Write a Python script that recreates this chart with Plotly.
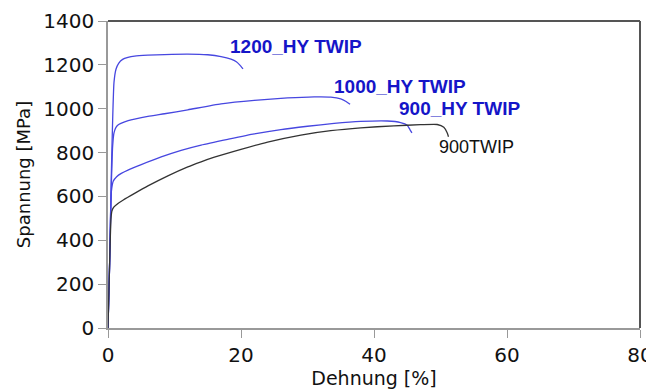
import plotly.graph_objects as go

# 1200_HY TWIP
x_1200 = [0, 0.25, 0.5, 0.7, 0.9, 1.2, 1.6, 2.2, 3, 4, 6, 8.5, 12, 15, 17, 18.5, 19.3, 19.8, 20.3]
y_1200 = [0, 300, 700, 950, 1120, 1180, 1207, 1225, 1234, 1240, 1244, 1247, 1249, 1246, 1238, 1226, 1214, 1200, 1182]

# 1000_HY TWIP
x_1000 = [0, 0.25, 0.5, 0.7, 0.9, 1.2, 1.6, 2.5, 4, 6, 8.5, 12, 17, 22, 27, 31, 33.5, 35, 35.8, 36.4]
y_1000 = [0, 300, 650, 830, 890, 915, 928, 940, 952, 965, 977, 995, 1022, 1038, 1049, 1054, 1053, 1045, 1033, 1020]

# 900_HY TWIP
x_900hy = [0, 0.25, 0.5, 0.8, 1.3, 2, 3, 5, 8, 11, 14, 18, 22, 26, 30, 34, 38, 42, 44, 45, 45.4, 45.7]
y_900hy = [0, 300, 620, 670, 690, 705, 720, 745, 780, 810, 834, 860, 885, 905, 920, 933, 942, 944, 937, 925, 905, 890]

# 900TWIP
x_900 = [0, 0.25, 0.45, 0.6, 0.9, 1.5, 2.3, 4, 6, 9, 12, 14, 16, 20, 24, 29, 33.5, 38, 43, 47, 49.5, 50.5, 51, 51.2]
y_900 = [0, 300, 500, 535, 552, 568, 584, 614, 648, 694, 735, 758, 779, 815, 848, 880, 900, 913, 922, 927, 928, 915, 890, 872]

labels = ["1200_HY TWIP", "1000_HY TWIP", "900_HY TWIP", "900TWIP"]
label_x = [18.0, 33.7, 43.5, 49.5]
label_y = [1286, 1103, 999, 825]

x_ticks = [0, 20, 40, 60, 80]
y_ticks = [0, 200, 400, 600, 800, 1000, 1200, 1400]

BLUE_LINE = "#4747e0"
BLUE_TEXT = "#1515c8"
BLACK_LINE = "#333333"

fig = go.Figure()
series = [(x_1200, y_1200, BLUE_LINE), (x_1000, y_1000, BLUE_LINE),
          (x_900hy, y_900hy, BLUE_LINE), (x_900, y_900, BLACK_LINE)]
for xs, ys, c in series:
    fig.add_trace(go.Scatter(x=xs, y=ys, mode="lines", line=dict(color=c, width=1.3, shape="spline", smoothing=0.5),
                             showlegend=False, hoverinfo="skip"))

for i, (t, lx, ly) in enumerate(zip(labels, label_x, label_y)):
    bold = i < 3
    fig.add_annotation(x=lx, y=ly, text=("<b>%s</b>" % t) if bold else t, showarrow=False,
                       xanchor="left", yanchor="middle",
                       font=dict(family="Liberation Sans, Arial, sans-serif", size=19 if bold else 18,
                                 color=BLUE_TEXT if bold else "#111111"))

# page body has an 8px margin, so the figure is made 8px smaller and margins shifted
fig.update_layout(
    width=646, height=384,
    margin=dict(l=100, r=14, t=13, b=64),
    paper_bgcolor="white", plot_bgcolor="white",
    font=dict(family="DejaVu Sans, Verdana, sans-serif", size=20, color="#111111"),
)
fig.update_xaxes(range=[0, 80], tickvals=x_ticks, ticks="outside", ticklen=8, tickcolor="#999999",
                 showline=True, linecolor="#999999", linewidth=1.5, showgrid=False, zeroline=False,
                 tickfont=dict(size=20), automargin=False,
                 title=dict(text="Dehnung [%]", standoff=2,
                            font=dict(family="DejaVu Sans, Verdana, sans-serif", size=19)))
fig.update_yaxes(range=[0, 1400], tickvals=y_ticks, ticks="outside", ticklen=8, tickcolor="#999999",
                 showline=True, linecolor="#999999", linewidth=1.5, showgrid=False, zeroline=False,
                 tickfont=dict(size=20), automargin=False,
                 title=dict(text="Spannung [MPa]", standoff=8,
                            font=dict(family="DejaVu Sans, Verdana, sans-serif", size=18)))
# darker top and right frame
fig.add_shape(type="line", xref="paper", yref="paper", x0=0, x1=1, y0=1, y1=1,
              line=dict(color="#555555", width=2))
fig.add_shape(type="line", xref="paper", yref="paper", x0=1, x1=1, y0=0, y1=1,
              line=dict(color="#555555", width=2))

fig.write_html("out.html")
